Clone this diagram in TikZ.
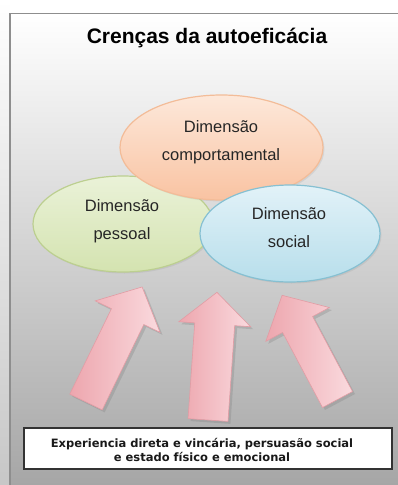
\documentclass[tikz,border=0pt]{standalone}
\usepackage{fontspec}
\setmainfont{Liberation Sans}
\newfontfamily\boxfont{DejaVu Sans}
\usetikzlibrary{shapes.geometric,shadows}

\definecolor{frameline}{HTML}{8E8E8E}
\definecolor{bgbottom}{HTML}{A6A6A6}
\definecolor{orfillA}{HTML}{FDE8DA}
\definecolor{orfillB}{HTML}{F9C3A2}
\definecolor{orline}{HTML}{F3BC98}
\definecolor{grfillA}{HTML}{EAF2D8}
\definecolor{grfillB}{HTML}{D4E3B0}
\definecolor{grline}{HTML}{BCCF90}
\definecolor{blfillA}{HTML}{E2F2F8}
\definecolor{blfillB}{HTML}{B7DEEB}
\definecolor{blline}{HTML}{86C0D2}
\definecolor{pkA}{HTML}{EDA6AE}
\definecolor{pkB}{HTML}{FADADE}
\definecolor{pkline}{HTML}{E29CA4}

\newcommand\blockarrowpath[4]{% half shaft, half head, length, head length
  (-#1,0) -- (#1,0) -- (#1,{-(#3-#4)}) -- (#2,{-(#3-#4)}) -- (0,-#3)
  -- (-#2,{-(#3-#4)}) -- (-#1,{-(#3-#4)}) -- cycle}

\begin{document}
\begin{tikzpicture}[x=1pt,y=-1pt,
  dim/.style={ellipse, inner sep=0pt, line width=1.2pt,
    drop shadow={shadow xshift=1.5pt, shadow yshift=-1.5pt, opacity=0.15}},
  dimtext/.style={font=\fontsize{16.5}{28}\selectfont, align=center,
    inner sep=0pt, text=black!85},
  bigarrow/.style={draw=pkline, line width=0.6pt, left color=pkA, right color=pkB,
    drop shadow={shadow xshift=2.5pt, shadow yshift=-2.5pt, opacity=0.3}},
]
\useasboundingbox (0,0) rectangle (398,485);

% background
\shade[top color=white, bottom color=black!22] (0,0) rectangle (10,485);
\shade[top color=white, bottom color=bgbottom] (10,13.5) rectangle (398,485);
\draw[frameline, line width=1.5pt] (10,485) -- (10,13.5) -- (398,13.5);

% title
\node[font=\fontsize{21}{25}\selectfont\bfseries, anchor=base, inner sep=0pt]
  (title) at (207,43) {Crenças da autoeficácia};

% ellipses
\node[dim, minimum width=180pt, minimum height=96pt, draw=grline,
  top color=grfillA, bottom color=grfillB] (pes) at (123,224) {};
\node[dim, minimum width=203pt, minimum height=105pt, draw=orline,
  top color=orfillA, bottom color=orfillB] (comp) at (221.5,147.5) {};
\node[dim, minimum width=180pt, minimum height=97pt, draw=blline,
  top color=blfillA, bottom color=blfillB] (soc) at (290,233.5) {};

\node[dimtext] (comptxt) at (221,142.5) {Dimensão\\comportamental};
\node[dimtext] (pestxt) at (122,221.6) {Dimensão\\pessoal};
\node[dimtext] (soctxt) at (289,227.3) {Dimensão\\social};

% block arrows
\begin{scope}[shift={(86,402)}, rotate=-26]
  \path[bigarrow] \blockarrowpath{18}{36}{128}{33};
\end{scope}
\begin{scope}[shift={(208,420)}, rotate=-4]
  \path[bigarrow] \blockarrowpath{20}{36}{128}{32};
\end{scope}
\begin{scope}[shift={(337.5,399.5)}, rotate=28]
  \path[bigarrow] \blockarrowpath{17}{36}{118}{33};
\end{scope}

% source box
\node[draw=black!80, line width=1.5pt, fill=white, minimum width=368pt,
  minimum height=41pt, inner sep=0pt] (src) at (208,448.5) {};
\node[font=\boxfont\fontsize{11.5}{14}\selectfont\bfseries, align=center,
  inner sep=0pt, text=black!90] (srctxt) at (202,449.5)
  {Experiencia direta e vincária, persuasão social\\e estado físico e emocional};
\end{tikzpicture}
\end{document}
